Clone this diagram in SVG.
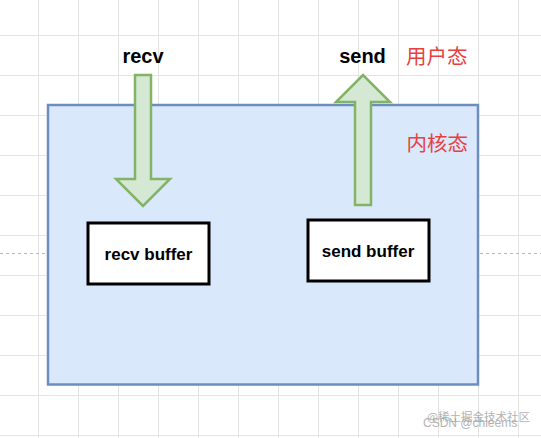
<svg xmlns="http://www.w3.org/2000/svg" width="541" height="438" viewBox="0 0 541 438">
<defs>
<style>
.grid line{stroke:#e3e3e3;stroke-width:1}
.lbl{font-family:"Liberation Sans",Arial,sans-serif;font-weight:bold;fill:#000;text-anchor:middle}
.cn{font-family:"Noto Sans CJK SC",sans-serif;fill:#e8403f;font-size:20.5px}
.buf{fill:#fff;stroke:#000;stroke-width:3}
.arrow{fill:#d5e8d4;stroke:#82b366;stroke-width:2.5;stroke-linejoin:miter}
.wm{fill:#9a9a9a;opacity:0.75}
</style>
</defs>
<rect width="541" height="438" fill="#fff"/>
<g class="grid">
<line x1="38.5" y1="0" x2="38.5" y2="438"/><line x1="78.5" y1="0" x2="78.5" y2="438"/><line x1="118.5" y1="0" x2="118.5" y2="438"/><line x1="158.5" y1="0" x2="158.5" y2="438"/><line x1="198.5" y1="0" x2="198.5" y2="438"/><line x1="238.5" y1="0" x2="238.5" y2="438"/><line x1="278.5" y1="0" x2="278.5" y2="438"/><line x1="318.5" y1="0" x2="318.5" y2="438"/><line x1="358.5" y1="0" x2="358.5" y2="438"/><line x1="398.5" y1="0" x2="398.5" y2="438"/><line x1="438.5" y1="0" x2="438.5" y2="438"/><line x1="478.5" y1="0" x2="478.5" y2="438"/><line x1="518.5" y1="0" x2="518.5" y2="438"/>
<line x1="0" y1="35.5" x2="541" y2="35.5"/><line x1="0" y1="75.5" x2="541" y2="75.5"/><line x1="0" y1="115.5" x2="541" y2="115.5"/><line x1="0" y1="155.5" x2="541" y2="155.5"/><line x1="0" y1="195.5" x2="541" y2="195.5"/><line x1="0" y1="235.5" x2="541" y2="235.5"/><line x1="0" y1="275.5" x2="541" y2="275.5"/><line x1="0" y1="315.5" x2="541" y2="315.5"/><line x1="0" y1="355.5" x2="541" y2="355.5"/><line x1="0" y1="395.5" x2="541" y2="395.5"/><line x1="0" y1="435.5" x2="541" y2="435.5"/>
</g>
<line x1="0" y1="253.5" x2="541" y2="253.5" stroke="#b8b8b8" stroke-width="1" stroke-dasharray="3,3"/>
<g id="kernel">
<rect x="48" y="105" width="430" height="279.5" fill="#dae8fc" stroke="#6c8ebf" stroke-width="2.5"/>
<text class="cn" x="406.5" y="151">内核态</text>
</g>
<g id="user-label">
<text class="cn" x="406" y="64">用户态</text>
</g>
<g id="recv">
<text class="lbl" x="143" y="63" font-size="20">recv</text>
</g>
<g id="send">
<text class="lbl" x="362.5" y="63" font-size="20">send</text>
</g>
<g id="recv-buffer">
<rect class="buf" x="88" y="223" width="121" height="61"/>
<text class="lbl" x="148.5" y="260" font-size="17">recv buffer</text>
</g>
<g id="send-buffer">
<rect class="buf" x="308" y="220" width="121" height="61"/>
<text class="lbl" x="368" y="257" font-size="17">send buffer</text>
</g>
<g id="connectors">
<path class="arrow" d="M135,75 L151,75 L151,179 L170,179 L143,206 L116,179 L135,179 Z"/>
<path class="arrow" d="M355,205 L371,205 L371,102 L390,102 L363,75 L336,102 L355,102 Z"/>
</g>
<g id="watermark">
<text class="wm" x="427" y="421" font-size="11.5" font-family="'Noto Sans CJK SC',sans-serif">@稀土掘金技术社区</text>
<text class="wm" x="423" y="427" font-size="12" font-family="'Liberation Sans',Arial,sans-serif">CSDN @chieems</text>
</g>
</svg>
